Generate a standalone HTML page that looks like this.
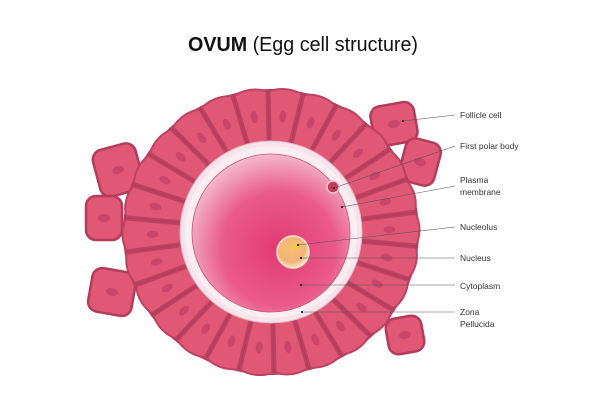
<!DOCTYPE html>
<html><head><meta charset="utf-8"><style>
html,body{margin:0;padding:0;background:#fff;}
svg{display:block;}
text{font-family:"Liberation Sans",sans-serif;}
</style></head><body>
<svg id="s" width="612" height="408" viewBox="0 0 612 408" xmlns="http://www.w3.org/2000/svg">
<defs>
<radialGradient id="cyt" cx="0.55" cy="0.6" r="0.6">
<stop offset="0" stop-color="#e23a72"/><stop offset="0.6" stop-color="#ea5a8a"/><stop offset="1" stop-color="#f3b6cb"/>
</radialGradient>
<radialGradient id="nuc" cx="0.45" cy="0.4" r="0.6">
<stop offset="0" stop-color="#f8c070"/><stop offset="0.7" stop-color="#f2b57a"/><stop offset="1" stop-color="#fbe3c0"/>
</radialGradient>
</defs>
<text x="188" y="51" font-size="20" textLength="230" lengthAdjust="spacingAndGlyphs" fill="#111"><tspan font-weight="bold">OVUM</tspan> (Egg cell structure)</text>
<g id="cells"></g>
<circle cx="271" cy="232" r="91" fill="#f7e3ea" stroke="#e8b3c4" stroke-width="1"/>
<circle cx="271" cy="232" r="86" fill="#fbeef2"/>
<circle cx="271" cy="233" r="79" fill="url(#cyt)" stroke="#c6557a" stroke-width="0.8"/>
<circle cx="333" cy="187" r="6" fill="#c43a5c" stroke="#f4c5d2" stroke-width="1.5"/>
<circle cx="293" cy="252" r="16" fill="url(#nuc)" stroke="#fde9cf" stroke-width="1.5"/>
<circle cx="296" cy="246" r="3" fill="#f5d020"/>
<g stroke="#555" stroke-width="0.6" fill="none">
<line x1="403" y1="121" x2="455" y2="115"/>
<line x1="334" y1="188" x2="455" y2="146"/>
<line x1="342" y1="207" x2="455" y2="186"/>
<line x1="298" y1="245" x2="455" y2="227"/>
<line x1="301" y1="258" x2="455" y2="258"/>
<line x1="301" y1="285" x2="455" y2="285"/>
<line x1="302" y1="312" x2="455" y2="312"/>
</g>
<g fill="#222">
<circle cx="403" cy="121" r="1.1"/><circle cx="334" cy="188" r="1.1"/><circle cx="342" cy="207" r="1.1"/>
<circle cx="298" cy="245" r="1.1"/><circle cx="301" cy="258" r="1.1"/><circle cx="301" cy="285" r="1.1"/><circle cx="302" cy="312" r="1.1"/>
</g>
<g font-size="8.5" fill="#333">
<text x="460" y="118">Follicle cell</text>
<text x="460" y="149">First polar body</text>
<text x="460" y="183">Plasma</text>
<text x="460" y="195">membrane</text>
<text x="460" y="230">Nucleolus</text>
<text x="460" y="261">Nucleus</text>
<text x="460" y="289">Cytoplasm</text>
<text x="460" y="315">Zona</text>
<text x="460" y="327">Pellucida</text>
</g>
</svg>
<script>
(function(){
var g=document.getElementById('cells');
var cx=271,cy=232,ri=91,rxo=146,ryo=141,N=26,h='',gap=1.6;
var loose=[[394,124,22,20,-10],[420,162,18,22,15],[118,170,22,24,-15],[104,218,18,22,0],[112,292,22,22,10],[405,335,18,18,-10]];
loose.forEach(function(l){
 h+='<g transform="rotate('+l[4]+' '+l[0]+' '+l[1]+')"><rect x="'+(l[0]-l[2])+'" y="'+(l[1]-l[3])+'" width="'+2*l[2]+'" height="'+2*l[3]+'" rx="10" fill="#e05876" stroke="#b23c5a" stroke-width="2.5"/>';
 h+='<ellipse cx="'+l[0]+'" cy="'+l[1]+'" rx="6" ry="4" fill="#c9466a"/></g>';
});
h+='<ellipse cx="'+cx+'" cy="'+cy+'" rx="'+(rxo+2)+'" ry="'+(ryo+2)+'" fill="#b23c5a"/>';
function bnd(a){
 var ix=cx+ri*Math.cos(a),iy=cy+ri*Math.sin(a),ox=cx+rxo*Math.cos(a),oy=cy+ryo*Math.sin(a);
 var dx=ox-ix,dy=oy-iy,L=Math.hypot(dx,dy);return {i:[ix,iy],o:[ox,oy],n:[-dy/L,dx/L]};
}
function off(p,n,s){return [(p[0]+n[0]*s).toFixed(1),(p[1]+n[1]*s).toFixed(1)];}
for(var i=0;i<N;i++){
 var a0=(i/N)*2*Math.PI+0.1,a1=((i+1)/N)*2*Math.PI+0.1;
 var b0=bnd(a0),b1=bnd(a1),am=(a0+a1)/2;
 var A=off(b0.i,b0.n,gap),D=off(b0.o,b0.n,gap),B=off(b1.i,b1.n,-gap),C=off(b1.o,b1.n,-gap);
 var M=[cx+(rxo+6)*Math.cos(am),cy+(ryo+6)*Math.sin(am)],Mi=[cx+(ri-1)*Math.cos(am),cy+(ri-1)*Math.sin(am)];
 h+='<path d="M'+A+' L'+D+' Q'+M+' '+C+' L'+B+' Q'+Mi+' '+A+' Z" fill="#e05876" stroke="#bd4262" stroke-width="2" stroke-linejoin="round"/>';
 var n=[cx+(ri+rxo)/2*Math.cos(am),cy+(ri+ryo)/2*Math.sin(am)],ang=am*180/Math.PI;
 h+='<ellipse cx="'+n[0]+'" cy="'+n[1]+'" rx="6" ry="3.5" transform="rotate('+ang+' '+n[0]+' '+n[1]+')" fill="#c9466a"/>';
}
g.innerHTML=h;
})();
</script>
</body></html>
